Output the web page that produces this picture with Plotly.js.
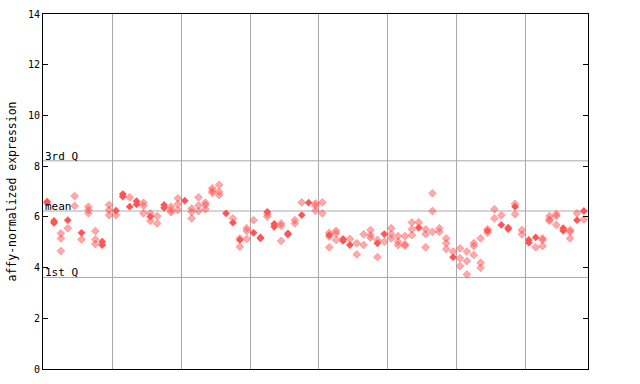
<!DOCTYPE html>
<html>
<head>
<meta charset="utf-8">
<script src="https://cdn.plot.ly/plotly-3.0.1.min.js"></script>
<style>html,body{margin:0;padding:0;background:#fff}#chart{width:640px;height:384px}</style>
</head>
<body>
<div id="chart"></div>
<script>
// per-sample values: open (dotted) diamonds and filled diamonds (index = sample position)
const openVals = [
  [], [], [5.35,5.15,4.65], [5.55], [6.82,6.43], [5.11], [6.40,6.27,6.14], [5.44,5.11,4.93], [], [6.47,6.27,6.07],
  [6.07], [], [6.77], [], [6.56,6.44,6.14], [6.14,5.84], [6.03,5.74], [], [6.40,6.27,6.18], [6.73,6.51,6.27],
  [], [6.33,6.20,5.94], [6.77,6.45,6.23], [6.56,6.47,6.30], [7.13,7.03,6.95], [7.26,6.99,6.86], [], [5.94], [5.15,4.82], [5.55,5.45,5.13],
  [5.87], [], [6.11,6.01], [], [5.74,5.65,5.05], [], [5.87,5.74], [6.57], [], [6.53,6.44,6.24],
  [6.57,6.14], [5.37,5.22,4.80], [5.45,5.35,5.09], [], [5.13], [4.96,4.52], [5.31,4.89], [5.48,5.28,5.18], [5.09,4.41], [5.02],
  [5.55,5.32,5.15], [5.24,5.02,4.89], [5.24,4.92,4.86], [5.78,5.51,5.28], [5.78], [5.51,5.32,4.80], [6.93,6.23,5.41], [5.55,5.41], [5.15,4.96,4.73], [4.63],
  [4.76,4.37,4.06], [4.63,4.26,3.73], [4.96,4.85,4.50], [5.15,4.19,3.99], [5.51,5.37], [6.30,5.94], [6.06], [], [6.51,6.10], [5.48,5.31],
  [], [4.80], [5.15,5.09,4.85], [6.03,5.90,5.84], [6.11,6.03,5.68], [], [5.48,5.41,5.15], [6.14], [5.90]
];
const filledVals = [
  [6.60,6.55], [5.84,5.76], [], [5.87], [], [5.37], [], [], [5.02,4.89], [],
  [6.24], [6.90,6.80], [6.40], [6.62,6.49], [], [6.01], [], [6.47,6.36], [], [],
  [6.64], [], [], [], [], [], [6.14], [5.77], [5.09], [],
  [5.37], [5.19,5.15], [6.20], [5.72,5.61], [], [5.35,5.30], [], [6.07], [6.56], [],
  [], [5.28], [], [5.13,5.05], [4.89], [], [], [], [4.96], [5.32],
  [], [], [], [], [5.57], [], [], [], [], [4.41],
  [], [], [], [], [5.45], [], [5.68], [5.57,5.52], [6.40], [],
  [5.09,4.98], [5.19], [], [], [], [5.55,5.45], [], [5.87], [6.23]
];
const q3 = 8.21, meanVal = 6.23, q1 = 3.61;
const yTicks = [0,2,4,6,8,10,12,14];
const groupLines = [9.5,19.5,29.5,39.5,49.5,59.5,69.5];

function flatten(arr){
  const xs=[], ys=[];
  arr.forEach((vals,i)=>vals.forEach(v=>{xs.push(i); ys.push(v);}));
  return {xs, ys};
}
const o = flatten(openVals), f = flatten(filledVals);
const red = '#ff5555';
const mono = 'DejaVu Sans Mono, monospace';

const traces = [
  {x:o.xs, y:o.ys, type:'scatter', mode:'markers', hoverinfo:'skip',
   marker:{symbol:'diamond', size:6, color:'rgba(255,85,85,0.5)', line:{width:0.6, color:'rgba(255,85,85,0.7)'}}},
  {x:f.xs, y:f.ys, type:'scatter', mode:'markers', hoverinfo:'skip',
   marker:{symbol:'diamond', size:6, color:red, line:{width:0}}}
];

const hl = (y)=>({type:'line', xref:'paper', x0:0, x1:1, yref:'y', y0:y, y1:y, line:{color:'#aaaaaa', width:1}, layer:'below'});
const lab = (y,t)=>({xref:'paper', x:0, xanchor:'left', xshift:0, yref:'y', y:y, yanchor:'bottom', yshift:-4, text:t, showarrow:false, font:{family:mono, size:11, color:'#000'}});

const layout = {
  width:640, height:384,
  margin:{l:43, r:52, t:14, b:15},
  paper_bgcolor:'#fff', plot_bgcolor:'#fff',
  showlegend:false,
  xaxis:{range:[-0.6,78.6], tickvals:groupLines, showticklabels:false, ticks:'',
         showgrid:true, gridcolor:'#aaaaaa', gridwidth:1, zeroline:false,
         showline:true, linecolor:'#000', linewidth:1, mirror:true},
  yaxis:{range:[0,14], tickvals:yTicks, ticks:'inside', ticklen:5, tickcolor:'#000',
         showgrid:false, zeroline:false, showline:true, linecolor:'#000', linewidth:1, mirror:'ticks',
         tickfont:{family:mono, size:10, color:'#000'},
         title:{text:'affy-normalized expression', font:{family:mono, size:11.5, color:'#000'}, standoff:8}},
  shapes:[hl(q3), hl(meanVal), hl(q1)],
  annotations:[lab(q3,'3rd Q'), lab(meanVal,'mean'), lab(q1,'1st Q')]
};
Plotly.newPlot('chart', traces, layout, {staticPlot:true, displayModeBar:false});
</script>
</body>
</html>
